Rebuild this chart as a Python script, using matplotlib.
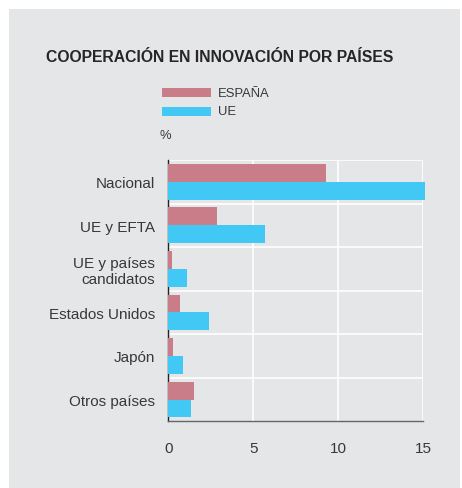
import matplotlib
matplotlib.use("Agg")
import matplotlib.pyplot as plt
from matplotlib.patches import Rectangle
import numpy as np

categories = ["Nacional", "UE y EFTA", "UE y países\ncandidatos", "Estados Unidos", "Japón", "Otros países"]
espana = [9.3, 2.85, 0.2, 0.7, 0.3, 1.5]
ue = [15.1, 5.7, 1.1, 2.4, 0.85, 1.35]
xticks = [0, 5, 10, 15]
series_names = ["ESPAÑA", "UE"]

W, H = 462, 489
BG = "#e5e6e8"
C_ES = "#c97d88"
C_UE = "#41c8f4"
TXT = "#383838"
FONT = "Liberation Sans"

fig = plt.figure(figsize=(W / 100, H / 100), dpi=100)
fig.patch.set_facecolor("white")

def fx(px):
    return px / W

def fy(py):
    return 1 - py / H

# gray panel
fig.patches.append(Rectangle((fx(9), fy(489)), fx(460) - fx(9), fy(10) - fy(489),
                             transform=fig.transFigure, facecolor=BG, edgecolor="none", zorder=-10))

# title
fig.text(fx(46), fy(57.5), "COOPERACIÓN EN INNOVACIÓN POR PAÍSES", fontsize=11.3,
         family=FONT, color="#262626", ha="left", va="center", fontweight="bold")

# legend
for i, (name, col) in enumerate(zip(series_names, [C_ES, C_UE])):
    top = 89.3 + i * 18.7
    fig.patches.append(Rectangle((fx(162), fy(top + 8.7)), fx(211) - fx(162), fy(top) - fy(top + 8.7),
                                 transform=fig.transFigure, facecolor=col, edgecolor="none"))
    fig.text(fx(218), fy(top + 4.3), name, fontsize=9.4, family=FONT, color=TXT, ha="left", va="center")

fig.text(fx(160), fy(136), "%", fontsize=9.4, family=FONT, color=TXT, ha="left", va="center")

ax = fig.add_axes([fx(168.3), fy(422.3), fx(423.3) - fx(168.3), fy(161) - fy(422.3)])
ax.set_facecolor(BG)

y = np.arange(len(categories))
h = 0.41
ax.barh(y - h / 2, espana, height=h, color=C_ES, zorder=3, clip_on=False)
ax.barh(y + h / 2, ue, height=h, color=C_UE, zorder=3, clip_on=False)

ax.set_xlim(0, 15)
ax.set_ylim(len(categories) - 0.5, -0.5)

for v in xticks[1:]:
    ax.axvline(v, color="white", lw=1.2, zorder=1)
for k in range(len(categories)):
    ax.axhline(k - 0.5, color="white", lw=1.2, zorder=1)

ax.set_yticks(y)
ax.set_yticklabels(categories, fontsize=11, family=FONT, color=TXT, linespacing=1.15)
ax.set_xticks(xticks)
ax.set_xticklabels([str(t) for t in xticks], fontsize=11, family=FONT, color=TXT)
ax.tick_params(axis="y", length=0, pad=9.4)
ax.tick_params(axis="x", length=0, pad=14)

for s in ["top", "right"]:
    ax.spines[s].set_visible(False)
ax.spines["left"].set_color("#222222")
ax.spines["left"].set_linewidth(1.0)
ax.spines["bottom"].set_color("#666666")
ax.spines["bottom"].set_linewidth(1.0)
for lab in ax.get_yticklabels():
    lab.set_ha("right")
    lab.set_multialignment("right")

fig.savefig("out.png", dpi=100, facecolor="white")
